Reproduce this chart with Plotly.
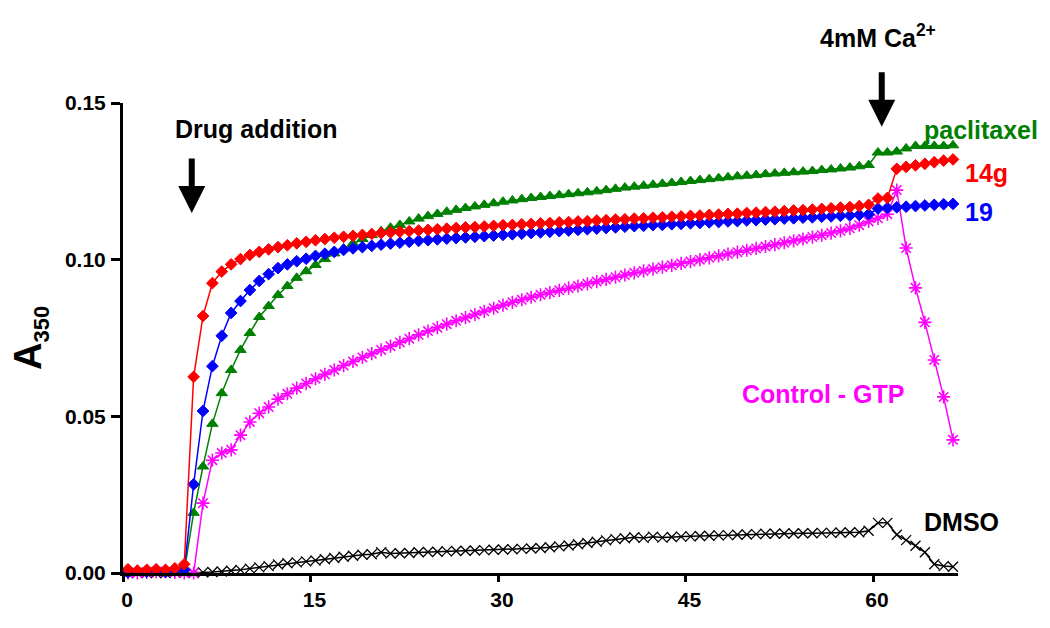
import plotly.graph_objects as go

# ---------------- data ----------------
time_min = [0.4, 1.15, 1.9, 2.65, 3.4, 4.15, 4.9, 5.65, 6.4, 7.15, 7.9, 8.65, 9.4, 10.15, 10.9,
            11.65, 12.4, 13.15, 13.9, 14.65, 15.4, 16.15, 16.9, 17.65, 18.4, 19.15, 19.9, 20.65,
            21.4, 22.15, 22.9, 23.65, 24.4, 25.15, 25.9, 26.65, 27.4, 28.15, 28.9, 29.65, 30.4,
            31.15, 31.9, 32.65, 33.4, 34.15, 34.9, 35.65, 36.4, 37.15, 37.9, 38.65, 39.4, 40.15,
            40.9, 41.65, 42.4, 43.15, 43.9, 44.65, 45.4, 46.15, 46.9, 47.65, 48.4, 49.15, 49.9,
            50.65, 51.4, 52.15, 52.9, 53.65, 54.4, 55.15, 55.9, 56.65, 57.4, 58.15, 58.9, 59.65,
            60.4, 61.15, 61.9, 62.65, 63.4, 64.15, 64.9, 65.65, 66.4]

a350_14g = [0.0012, 0.0008, 0.0010, 0.0012, 0.0010, 0.0015, 0.0028, 0.0626, 0.0820, 0.0925,
            0.0962, 0.0985, 0.1002, 0.1015, 0.1025, 0.1033, 0.1040, 0.1046, 0.1052, 0.1057,
            0.1062, 0.1066, 0.1070, 0.1073, 0.1076, 0.1079, 0.1082, 0.1085, 0.1087, 0.1089,
            0.1091, 0.1093, 0.1095, 0.1097, 0.1099, 0.1101, 0.1103, 0.1104, 0.1106, 0.1108,
            0.1110, 0.1111, 0.1113, 0.1114, 0.1116, 0.1117, 0.1119, 0.1120, 0.1122, 0.1123,
            0.1125, 0.1126, 0.1128, 0.1129, 0.1131, 0.1132, 0.1134, 0.1135, 0.1137, 0.1138,
            0.1140, 0.1141, 0.1143, 0.1144, 0.1146, 0.1147, 0.1149, 0.1150, 0.1152, 0.1153,
            0.1155, 0.1157, 0.1158, 0.1160, 0.1162, 0.1164, 0.1166, 0.1168, 0.1171, 0.1175,
            0.1195, 0.1197, 0.1290, 0.1296, 0.1301, 0.1306, 0.1311, 0.1316, 0.1320]

a350_19 = [0.0002, -0.0004, 0.0004, 0.0010, 0.0003, 0.0008, 0.0010, 0.0283, 0.0517, 0.0660,
           0.0757, 0.0830, 0.0868, 0.0903, 0.0932, 0.0954, 0.0973, 0.0985, 0.0995, 0.1003,
           0.1012, 0.1019, 0.1025, 0.1031, 0.1036, 0.1040, 0.1044, 0.1048, 0.1051, 0.1054,
           0.1057, 0.1060, 0.1062, 0.1065, 0.1067, 0.1069, 0.1071, 0.1073, 0.1075, 0.1077,
           0.1079, 0.1081, 0.1083, 0.1085, 0.1087, 0.1089, 0.1091, 0.1093, 0.1095, 0.1097,
           0.1099, 0.1101, 0.1103, 0.1105, 0.1107, 0.1108, 0.1110, 0.1111, 0.1113, 0.1114,
           0.1116, 0.1117, 0.1119, 0.1120, 0.1122, 0.1123, 0.1125, 0.1126, 0.1128, 0.1129,
           0.1131, 0.1132, 0.1134, 0.1135, 0.1137, 0.1138, 0.1140, 0.1141, 0.1143, 0.1145,
           0.1163, 0.1165, 0.1167, 0.1169, 0.1171, 0.1173, 0.1175, 0.1177, 0.1178]

a350_paclitaxel = [0.0000, 0.0002, 0.0005, 0.0010, 0.0012, 0.0008, 0.0006, 0.0192, 0.0340, 0.0476,
                   0.0574, 0.0648, 0.0712, 0.0766, 0.0817, 0.0852, 0.0887, 0.0916, 0.0942, 0.0963,
                   0.0983, 0.1002, 0.1020, 0.1036, 0.1052, 0.1066, 0.1079, 0.1091, 0.1102, 0.1111,
                   0.1122, 0.1131, 0.1139, 0.1146, 0.1153, 0.1159, 0.1165, 0.1170, 0.1175, 0.1180,
                   0.1185, 0.1189, 0.1193, 0.1197, 0.1200, 0.1203, 0.1206, 0.1209, 0.1212, 0.1215,
                   0.1218, 0.1222, 0.1226, 0.1230, 0.1233, 0.1236, 0.1239, 0.1242, 0.1245, 0.1248,
                   0.1251, 0.1254, 0.1257, 0.1260, 0.1263, 0.1266, 0.1268, 0.1270, 0.1273, 0.1275,
                   0.1277, 0.1279, 0.1281, 0.1283, 0.1286, 0.1288, 0.1291, 0.1294, 0.1298, 0.1302,
                   0.1342, 0.1342, 0.1345, 0.1355, 0.1363, 0.1363, 0.1363, 0.1363, 0.1365]

a350_control_gtp = [0.0000, 0.0000, 0.0002, 0.0004, 0.0004, 0.0002, 0.0000, 0.0000, 0.0223, 0.0360,
                    0.0383, 0.0393, 0.0440, 0.0482, 0.0510, 0.0530, 0.0555, 0.0572, 0.0590, 0.0605,
                    0.0620, 0.0634, 0.0648, 0.0662, 0.0675, 0.0688, 0.0700, 0.0712, 0.0724, 0.0736,
                    0.0748, 0.0760, 0.0772, 0.0783, 0.0794, 0.0805, 0.0815, 0.0825, 0.0835, 0.0845,
                    0.0855, 0.0864, 0.0872, 0.0880, 0.0888, 0.0895, 0.0902, 0.0909, 0.0916, 0.0923,
                    0.0930, 0.0937, 0.0944, 0.0951, 0.0958, 0.0964, 0.0970, 0.0976, 0.0982, 0.0988,
                    0.0994, 0.1000, 0.1006, 0.1012, 0.1018, 0.1024, 0.1030, 0.1036, 0.1042, 0.1048,
                    0.1054, 0.1060, 0.1066, 0.1072, 0.1078, 0.1085, 0.1092, 0.1100, 0.1110, 0.1122,
                    0.1132, 0.1145, 0.1222, 0.1037, 0.0910, 0.0800, 0.0680, 0.0562, 0.0425]

a350_dmso = [0.0000, 0.0000, 0.0000, 0.0000, 0.0000, 0.0002, 0.0001, 0.0000, 0.0002, 0.0003,
             0.0005, 0.0007, 0.0010, 0.0014, 0.0018, 0.0022, 0.0027, 0.0031, 0.0034, 0.0037,
             0.0040, 0.0044, 0.0048, 0.0052, 0.0055, 0.0058, 0.0060, 0.0066, 0.0062, 0.0063,
             0.0064, 0.0066, 0.0067, 0.0068, 0.0069, 0.0070, 0.0071, 0.0072, 0.0073, 0.0074,
             0.0075, 0.0076, 0.0077, 0.0078, 0.0080, 0.0082, 0.0085, 0.0088, 0.0092, 0.0096,
             0.0100, 0.0104, 0.0108, 0.0111, 0.0114, 0.0112, 0.0116, 0.0113, 0.0115, 0.0116,
             0.0117, 0.0118, 0.0119, 0.0120, 0.0121, 0.0122, 0.0123, 0.0124, 0.0125, 0.0125,
             0.0126, 0.0126, 0.0127, 0.0127, 0.0128, 0.0128, 0.0129, 0.0129, 0.0130, 0.0135,
             0.0160, 0.0160, 0.0122, 0.0105, 0.0087, 0.0066, 0.0028, 0.0022, 0.0020]

x_ticks = [0, 15, 30, 45, 60]
y_ticks = [0.00, 0.05, 0.10, 0.15]
y_tick_labels = ["0.00", "0.05", "0.10", "0.15"]

# ---------------- figure ----------------
FONT = "Liberation Sans, Arial, sans-serif"

fig = go.Figure()

series = [
    (a350_dmso, "DMSO", "#000000", "x-thin-open", 10, 1.3),
    (a350_control_gtp, "Control - GTP", "#FF00FF", "asterisk-open", 11, 1.6),
    (a350_paclitaxel, "paclitaxel", "#008000", "triangle-up", 10, 1.0),
    (a350_19, "19", "#0000FF", "diamond", 9, 1.0),
    (a350_14g, "14g", "#FF0000", "diamond", 9, 1.0),
]
for vals, name, color, sym, size, lw in series:
    fig.add_trace(go.Scatter(
        x=time_min, y=vals, name=name, mode="lines+markers",
        line=dict(color=color, width=1.5),
        marker=dict(symbol=sym, size=size, color=color,
                    line=dict(color=color, width=lw)),
        cliponaxis=False, showlegend=False,
    ))

label_font = dict(family=FONT, size=25, weight="bold")

# series labels
fig.add_annotation(x=63.9, y=0.1414, text="paclitaxel", showarrow=False, xanchor="left",
                   font=dict(label_font, color="#008000"))
fig.add_annotation(xref="paper", x=1.006, y=0.1277, text="14g", showarrow=False, xanchor="left",
                   font=dict(label_font, color="#FF0000"))
fig.add_annotation(xref="paper", x=1.006, y=0.1152, text="19", showarrow=False, xanchor="left",
                   font=dict(label_font, color="#0000FF"))
fig.add_annotation(x=62.6, y=0.0571, text="Control - GTP", showarrow=False, xanchor="right",
                   font=dict(label_font, color="#FF00FF"))
fig.add_annotation(x=63.9, y=0.0163, text="DMSO", showarrow=False, xanchor="left",
                   font=dict(label_font, color="#000000"))

# event labels and arrows
fig.add_annotation(x=10.6, y=0.1417, text="Drug addition", showarrow=False,
                   font=dict(label_font, color="#000000"))
fig.add_annotation(x=5.5, y=0.1149, ax=0, ay=-56, text="", showarrow=True,
                   arrowhead=2, arrowsize=0.9, arrowwidth=6, arrowcolor="#000000")
fig.add_annotation(x=60.4, xref="x", y=1.18, yref="paper", text="4mM Ca<sup>2+</sup>",
                   showarrow=False, font=dict(label_font, color="#000000"))
fig.add_annotation(x=60.7, y=0.1424, ax=0, ay=-56, text="", showarrow=True,
                   arrowhead=2, arrowsize=0.9, arrowwidth=6, arrowcolor="#000000")

# y axis title
fig.add_annotation(xref="paper", yref="paper", x=-0.142, y=0.5, showarrow=False,
                   text="A<sub><span style='font-size:22px'>350</span></sub>", textangle=-90,
                   font=dict(family=FONT, size=38, weight="bold", color="#000000"))

fig.update_xaxes(range=[0, 66.8], tickvals=x_ticks, ticktext=[str(v) for v in x_ticks],
                 showline=True, linecolor="#000000", linewidth=3, automargin=False,
                 ticks="outside", ticklen=6, tickwidth=3, tickcolor="#000000",
                 showgrid=False, zeroline=False, ticklabelstandoff=0, ticklabelshift=4,
                 tickfont=dict(family=FONT, size=21, weight="bold", color="#000000"))
fig.update_yaxes(range=[0, 0.15], tickvals=y_ticks, ticktext=y_tick_labels,
                 showline=True, linecolor="#000000", linewidth=3, automargin=False,
                 ticks="outside", ticklen=9, tickwidth=3, tickcolor="#000000",
                 showgrid=False, zeroline=False, ticklabelstandoff=1,
                 tickfont=dict(family=FONT, size=21, weight="bold", color="#000000"))

# page body adds an 8px offset, so margins are reduced by 8px on the left/top
fig.update_layout(width=1050, height=628, autosize=False, template="none",
                  margin=dict(l=115, r=100, t=95, b=63),
                  paper_bgcolor="white", plot_bgcolor="white")

fig.write_html("out.html")
